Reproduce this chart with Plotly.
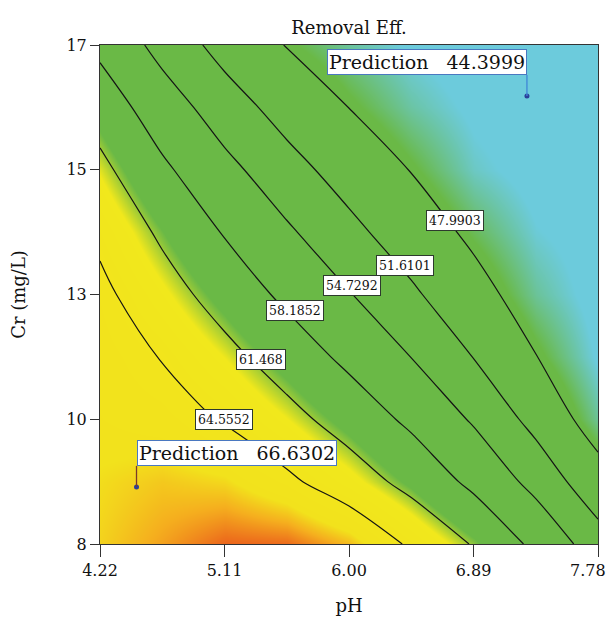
import plotly.graph_objects as go

# ---- data ----
ph = [4.22, 4.665, 5.11, 5.555, 6.00, 6.445, 6.89, 7.335, 7.78]
cr = [8.0, 9.125, 10.25, 11.375, 12.5, 13.625, 14.75, 15.875, 17.0]

# removal efficiency estimated on the (cr rows) x (ph columns) grid
removal_cr_8_0 = [66.5, 67.4, 68.4, 68.3, 67.0, 64.14, 61.26, 57.43, 53.0]
removal_cr_9_1 = [66.3, 66.7, 66.4, 65.1, 62.98, 60.55, 57.44, 53.72, 49.5]
removal_cr_10_3 = [65.9, 65.55, 64.38, 62.42, 60.18, 57.52, 54.37, 50.6, 46.3]
removal_cr_11_4 = [65.7, 64.45, 62.35, 60.02, 57.43, 54.69, 51.54, 48.08, 45.0]
removal_cr_12_5 = [65.2, 62.76, 60.18, 57.5, 54.89, 52.13, 49.23, 46.3, 44.6]
removal_cr_13_6 = [64.0, 60.96, 57.97, 55.19, 52.46, 49.86, 47.31, 45.3, 44.5]
removal_cr_14_8 = [62.22, 58.77, 55.64, 52.77, 50.23, 47.88, 45.6, 44.6, 44.0]
removal_cr_15_9 = [60.07, 56.39, 53.1, 50.36, 47.96, 46.1, 44.9, 44.35, 43.9]
removal_cr_17_0 = [57.44, 53.66, 50.51, 47.86, 46.2, 45.0, 44.4, 44.0, 43.7]

levels = [47.9903, 51.6101, 54.7292, 58.1852, 61.468, 64.5552]
level_text = ["47.9903", "51.6101", "54.7292", "58.1852", "61.468", "64.5552"]

x_tick_vals = [4.22, 5.11, 6.00, 6.89, 7.78]
x_tick_text = ["4.22", "5.11", "6.00", "6.89", "7.78"]
y_tick_vals = [8, 10.25, 12.5, 14.75, 17]
y_tick_text = ["8", "10", "13", "15", "17"]

pred_ph = [4.481, 7.272]
pred_cr = [9.03, 16.08]
pred_val = ["66.6302", "44.3999"]

# ---- layout / style (not data) ----
label_ph = [6.758, 6.400, 6.021, 5.614, 5.371, 5.106]
label_cr = [13.84, 13.03, 12.67, 12.22, 11.32, 10.25]

z = [removal_cr_8_0, removal_cr_9_1, removal_cr_10_3, removal_cr_11_4, removal_cr_12_5,
     removal_cr_13_6, removal_cr_14_8, removal_cr_15_9, removal_cr_17_0]

# last tick label padded with invisible text so it stays inside the page edge
tick_labels_shown = x_tick_text[:-1] + [
    x_tick_text[-1] + "<span style='color:rgba(0,0,0,0)'>00</span>"]

zmin, zmax = 43.0, 69.0
cs_vals = [43.0, 45.2, 47.6, 60.9, 62.4, 66.2, 67.2, 68.3, 69.0]
cs_cols = ["#6ccbdc", "#6ccbdc", "#6ab946", "#6ab946", "#f1e81c",
           "#f2e21c", "#f5ae1e", "#ec6a1c", "#e04a1a"]
colorscale = [[(v - zmin) / (zmax - zmin), c] for v, c in zip(cs_vals, cs_cols)]

FONT = "DejaVu Serif"

fig = go.Figure()
fig.add_trace(go.Heatmap(x=ph, y=cr, z=z, zmin=zmin, zmax=zmax, zsmooth="best",
                         colorscale=colorscale, showscale=False, hoverinfo="skip"))

for lv in levels:
    fig.add_trace(go.Contour(
        x=ph, y=cr, z=z, autocontour=False,
        contours=dict(start=lv, end=lv, size=1, coloring="none", showlabels=False),
        line=dict(color="#141414", width=1.2, smoothing=1.0),
        showscale=False, hoverinfo="skip"))

annotations = []
for lx, ly, txt in zip(label_ph, label_cr, level_text):
    annotations.append(dict(x=lx, y=ly, xref="x", yref="y", text=txt, showarrow=False,
                            font=dict(family=FONT, size=12.5, color="#111"),
                            bgcolor="white", bordercolor="#2d3a2d", borderwidth=1,
                            borderpad=2))

stem_cols = ["#7a3b2a", "#3f86d6"]
anchors = ["left", "right"]
shapes = []
for px_, py_, val, sc, an in zip(pred_ph, pred_cr, pred_val, stem_cols, anchors):
    shapes.append(dict(type="line", xref="x", yref="y", x0=px_, x1=px_,
                       ysizemode="pixel", yanchor=py_, y0=0, y1=21,
                       line=dict(color=sc, width=1.3)))
    annotations.append(dict(x=px_, y=py_, xref="x", yref="y",
                            text="Prediction\u00a0\u00a0\u00a0" + val, showarrow=False,
                            xanchor=an, yanchor="bottom", yshift=21,
                            font=dict(family=FONT, size=19, color="#111"),
                            bgcolor="white", bordercolor="#4a78c0", borderwidth=1,
                            borderpad=1))

fig.add_trace(go.Scatter(x=pred_ph, y=pred_cr, mode="markers",
                         marker=dict(size=5, color="#2b3f9a"), hoverinfo="skip",
                         showlegend=False))

# page body has an 8px margin: figure occupies 607x611 starting at (8, 8)
fig.update_layout(
    width=607, height=611,
    margin=dict(l=92, r=17, t=37, b=75, autoexpand=False),
    paper_bgcolor="white", plot_bgcolor="white",
    showlegend=False,
    title=dict(text="Removal Eff.", x=0.5, xref="paper", xanchor="center",
               y=1 - 20 / 611, yref="container", yanchor="middle", automargin=False,
               font=dict(family=FONT, size=18, color="#111")),
    font=dict(family=FONT, color="#111"),
    annotations=annotations, shapes=shapes,
)
fig.update_xaxes(range=[4.22, 7.78], tickvals=x_tick_vals, ticktext=tick_labels_shown,
                 ticks="outside", ticklen=12, tickcolor="#333", tickwidth=1,
                 showline=True, mirror=True, linecolor="#333", linewidth=1,
                 showgrid=False, zeroline=False, automargin=False,
                 ticklabeloverflow="allow",
                 tickfont=dict(family=FONT, size=16, color="#111"),
                 title=dict(text="pH", font=dict(family=FONT, size=18, color="#111"), standoff=20))
fig.update_yaxes(range=[8, 17], tickvals=y_tick_vals, ticktext=y_tick_text,
                 ticks="outside", ticklen=9, tickcolor="#333", tickwidth=1,
                 showline=True, mirror=True, linecolor="#333", linewidth=1,
                 showgrid=False, zeroline=False, automargin=False,
                 ticklabeloverflow="allow",
                 tickfont=dict(family=FONT, size=16, color="#111"),
                 title=dict(text="Cr (mg/L)", font=dict(family=FONT, size=18, color="#111"), standoff=36))

fig.write_html("out.html")
